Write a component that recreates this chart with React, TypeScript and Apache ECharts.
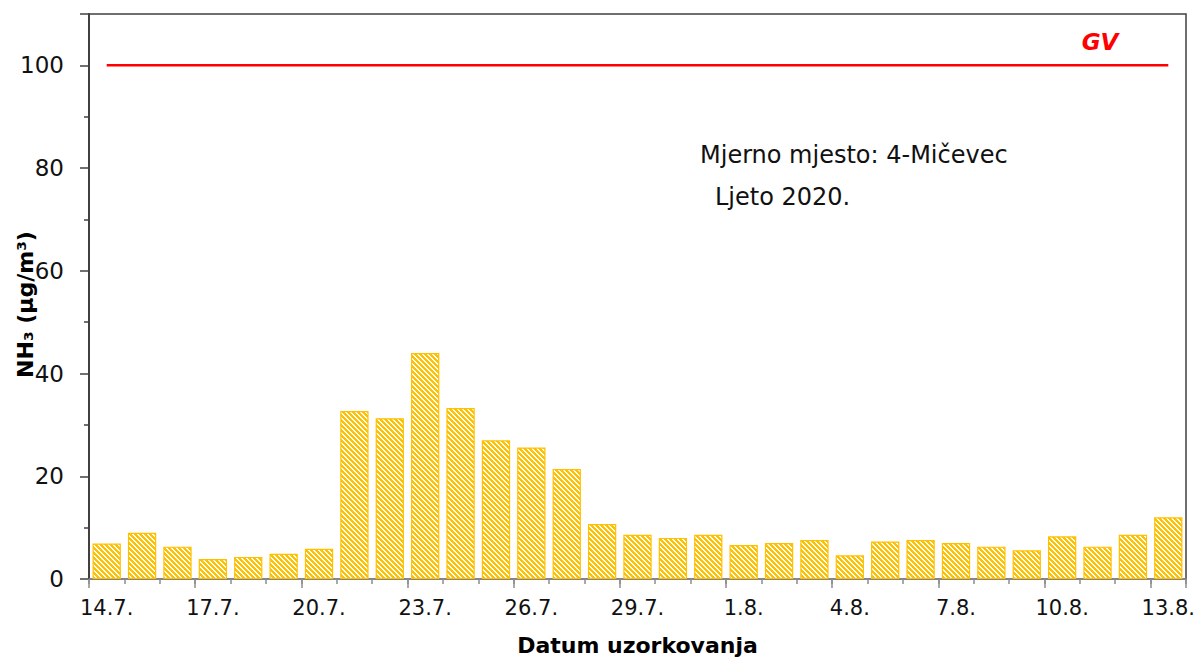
import React, { useEffect, useRef } from "react";
import * as echarts from "echarts";

const categories = [
  "14.7.", "15.7.", "16.7.", "17.7.", "18.7.", "19.7.", "20.7.", "21.7.", "22.7.", "23.7.",
  "24.7.", "25.7.", "26.7.", "27.7.", "28.7.", "29.7.", "30.7.", "31.7.", "1.8.", "2.8.",
  "3.8.", "4.8.", "5.8.", "6.8.", "7.8.", "8.8.", "9.8.", "10.8.", "11.8.", "12.8.", "13.8.",
];
const nh3Values = [
  6.9, 9.0, 6.3, 3.9, 4.3, 4.9, 5.9, 32.7, 31.3, 44.0,
  33.3, 27.0, 25.6, 21.4, 10.7, 8.6, 8.0, 8.6, 6.6, 7.0,
  7.6, 4.6, 7.3, 7.6, 7.0, 6.3, 5.6, 8.3, 6.3, 8.6, 12.0,
];
const gvValues = [
  100, 100, 100, 100, 100, 100, 100, 100, 100, 100,
  100, 100, 100, 100, 100, 100, 100, 100, 100, 100,
  100, 100, 100, 100, 100, 100, 100, 100, 100, 100, 100,
];
const yTicks = { min: 0, max: 110, interval: 20 };

function makeHatch(): HTMLCanvasElement {
  const n = 5;
  const c = document.createElement("canvas");
  c.width = n;
  c.height = n;
  const ctx = c.getContext("2d")!;
  for (let y = 0; y < n; y++) {
    for (let x = 0; x < n; x++) {
      const k = (((x - y) % n) + n) % n;
      ctx.fillStyle = k < 3 ? "#FFC000" : "#FFFFFF";
      ctx.fillRect(x, y, 1, 1);
    }
  }
  return c;
}

export default function App() {
  const ref = useRef<HTMLDivElement>(null);
  useEffect(() => {
    if (!ref.current) return;
    const chart = echarts.init(ref.current, null, { renderer: "svg" });
    const hatch = makeHatch();
    const font = "DejaVu Sans";
    chart.setOption({
      animation: false,
      backgroundColor: "#ffffff",
      grid: {
        left: 89,
        right: 12,
        top: 14,
        bottom: 81,
        containLabel: false,
        outerBoundsMode: "none",
        show: true,
        borderColor: "#404040",
        borderWidth: 1.5,
      },
      xAxis: [
        {
          type: "category",
          data: categories,
          boundaryGap: true,
          axisLine: { lineStyle: { color: "#8c8c8c", width: 1.5 } },
          axisTick: { show: true, interval: 0, length: 5, lineStyle: { color: "#8c8c8c", width: 1.5 } },
          axisLabel: {
            interval: 2,
            margin: 18,
            fontFamily: font,
            fontSize: 21,
            color: "#111111",
          },
          name: "Datum uzorkovanja",
          nameLocation: "middle",
          nameGap: 55,
          nameMoveOverlap: false,
          nameTextStyle: { fontFamily: font, fontSize: 22, fontWeight: "bold", color: "#000" },
        },
        {
          type: "category",
          data: categories,
          position: "bottom",
          boundaryGap: true,
          axisLine: { show: false },
          axisTick: { show: true, interval: 2, length: 9, lineStyle: { color: "#8c8c8c", width: 1.5 } },
          axisLabel: { show: false },
        },
      ],
      yAxis: {
        type: "value",
        min: yTicks.min,
        max: yTicks.max,
        interval: yTicks.interval,
        axisLine: { show: true, lineStyle: { color: "#404040", width: 2 } },
        axisTick: { show: true, length: 9, lineStyle: { color: "#404040", width: 1.5 } },
        minorTick: { show: true, splitNumber: 2, length: 5, lineStyle: { color: "#404040", width: 1.5 } },
        splitLine: { show: false },
        axisLabel: { fontFamily: font, fontSize: 23, color: "#111111", margin: 25, showMaxLabel: false },
        name: "NH\u2083 (\u00b5g/m\u00b3)",
        nameLocation: "middle",
        nameGap: 53,
        nameMoveOverlap: false,
        nameTextStyle: {
          fontFamily: font,
          fontSize: 22,
          fontWeight: "bold",
          color: "#000",
          padding: [0, 16, 0, 0],
        },
      },
      series: [
        {
          type: "bar",
          data: nh3Values,
          barCategoryGap: "20%",
          itemStyle: {
            color: { image: hatch, repeat: "repeat", imageWidth: 5, imageHeight: 5 },
            borderColor: "#FFC000",
            borderWidth: 1.2,
          },
        },
        {
          type: "line",
          data: gvValues,
          symbol: "none",
          lineStyle: { color: "#FF0000", width: 2.5 },
          z: 5,
        },
      ],
      graphic: [
        {
          type: "text",
          x: 1100,
          y: 42,
          style: {
            text: "GV",
            font: `italic bold 23px "${font}"`,
            fill: "#FF0000",
            align: "center",
            verticalAlign: "middle",
          },
        },
        {
          type: "text",
          x: 700,
          y: 155,
          style: {
            text: "Mjerno mjesto: 4-Mi\u010devec",
            font: `24px "${font}"`,
            fill: "#111111",
            align: "left",
            verticalAlign: "middle",
          },
        },
        {
          type: "text",
          x: 715,
          y: 197,
          style: {
            text: "Ljeto 2020.",
            font: `24px "${font}"`,
            fill: "#111111",
            align: "left",
            verticalAlign: "middle",
          },
        },
      ],
    });
    return () => chart.dispose();
  }, []);
  return (
    <div
      ref={ref}
      style={{ position: "fixed", left: 0, top: 0, width: 1198, height: 660 }}
    />
  );
}
